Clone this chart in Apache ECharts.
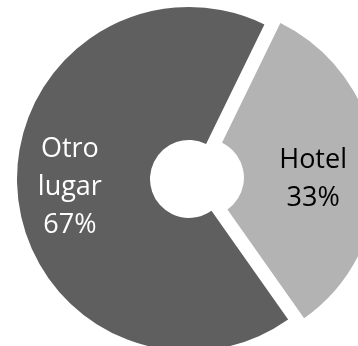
<!DOCTYPE html>
<html>
<head>
<meta charset="utf-8">
<script src="https://cdn.jsdelivr.net/npm/echarts@6/dist/echarts.min.js"></script>
<style>
html,body{margin:0;padding:0;background:#fff;}
#chart{width:358px;height:346px;}
</style>
</head>
<body>
<div id="chart"></div>
<script>
var categories = ['Hotel', 'Otro\nlugar'];
var values = [33, 67];
var colors = ['#b3b3b3', '#5f5f5f'];
var labelColors = ['#000000', '#ffffff'];

var chart = echarts.init(document.getElementById('chart'), null, {renderer: 'canvas'});
var offsets = [[0, 10], [-11, 0]];
var data = categories.map(function (c, i) {
  return {
    name: c,
    value: values[i],
    selected: i === 0,
    itemStyle: {color: colors[i]},
    label: {color: labelColors[i], offset: offsets[i]},
    select: {itemStyle: {color: colors[i]}, label: {color: labelColors[i], offset: offsets[i]}}
  };
});
chart.setOption({
  backgroundColor: '#ffffff',
  animation: false,
  series: [{
    type: 'pie',
    center: [189, 179],
    radius: [39, 172],
    startAngle: 64,
    clockwise: true,
    selectedMode: 'single',
    selectedOffset: 16,
    avoidLabelOverlap: false,
    emphasis: {disabled: true},
    label: {
      show: true,
      position: 'inside',
      fontFamily: 'Open Sans',
      fontSize: 27,
      lineHeight: 38,
      align: 'center',
      formatter: function (p) { return p.name + '\n' + Math.round(p.percent) + '%'; }
    },
    labelLine: {show: false},
    data: data
  }]
});
</script>
</body>
</html>
